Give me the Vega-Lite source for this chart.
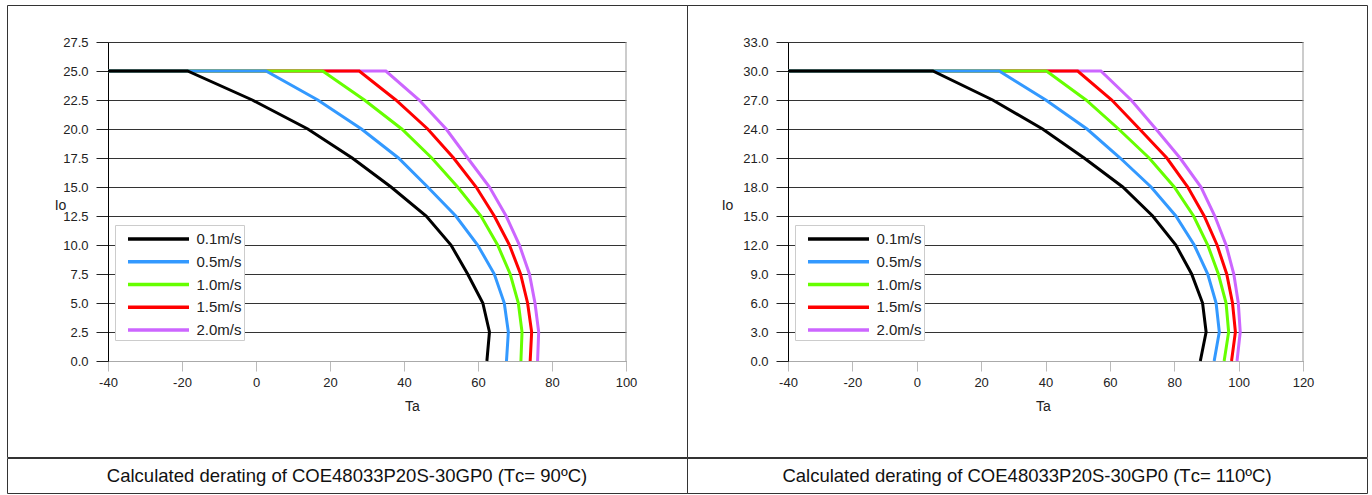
{
  "$schema": "https://vega.github.io/schema/vega-lite/v6.json",
  "padding": {"left": 6, "top": 4, "right": 6, "bottom": 1},
  "spacing": -3,
  "config": {"font": "Liberation Sans", "view": {"stroke": "#333", "strokeWidth": 1}},
  "datasets": {
    "left": [
      {"s": "2.0m/s", "Ta": -40, "Io": 25}, {"s": "2.0m/s", "Ta": 35.1, "Io": 25}, {"s": "2.0m/s", "Ta": 44.1, "Io": 22.5}, {"s": "2.0m/s", "Ta": 51.4, "Io": 20}, {"s": "2.0m/s", "Ta": 57.2, "Io": 17.5}, {"s": "2.0m/s", "Ta": 63.1, "Io": 15}, {"s": "2.0m/s", "Ta": 67.6, "Io": 12.5}, {"s": "2.0m/s", "Ta": 71.2, "Io": 10}, {"s": "2.0m/s", "Ta": 73.9, "Io": 7.5}, {"s": "2.0m/s", "Ta": 75.4, "Io": 5}, {"s": "2.0m/s", "Ta": 76.4, "Io": 2.5}, {"s": "2.0m/s", "Ta": 76.1, "Io": 0},
      {"s": "1.5m/s", "Ta": -40, "Io": 25}, {"s": "1.5m/s", "Ta": 27.9, "Io": 25}, {"s": "1.5m/s", "Ta": 37.8, "Io": 22.5}, {"s": "1.5m/s", "Ta": 46.4, "Io": 20}, {"s": "1.5m/s", "Ta": 53.4, "Io": 17.5}, {"s": "1.5m/s", "Ta": 59.5, "Io": 15}, {"s": "1.5m/s", "Ta": 64.4, "Io": 12.5}, {"s": "1.5m/s", "Ta": 68.5, "Io": 10}, {"s": "1.5m/s", "Ta": 71.5, "Io": 7.5}, {"s": "1.5m/s", "Ta": 73.4, "Io": 5}, {"s": "1.5m/s", "Ta": 74.5, "Io": 2.5}, {"s": "1.5m/s", "Ta": 74.1, "Io": 0},
      {"s": "1.0m/s", "Ta": -40, "Io": 25}, {"s": "1.0m/s", "Ta": 18, "Io": 25}, {"s": "1.0m/s", "Ta": 29.3, "Io": 22.5}, {"s": "1.0m/s", "Ta": 39.4, "Io": 20}, {"s": "1.0m/s", "Ta": 47.5, "Io": 17.5}, {"s": "1.0m/s", "Ta": 54.5, "Io": 15}, {"s": "1.0m/s", "Ta": 60.8, "Io": 12.5}, {"s": "1.0m/s", "Ta": 65.3, "Io": 10}, {"s": "1.0m/s", "Ta": 68.7, "Io": 7.5}, {"s": "1.0m/s", "Ta": 70.9, "Io": 5}, {"s": "1.0m/s", "Ta": 71.9, "Io": 2.5}, {"s": "1.0m/s", "Ta": 71.6, "Io": 0},
      {"s": "0.5m/s", "Ta": -40, "Io": 25}, {"s": "0.5m/s", "Ta": 2.7, "Io": 25}, {"s": "0.5m/s", "Ta": 16.7, "Io": 22.5}, {"s": "0.5m/s", "Ta": 28.5, "Io": 20}, {"s": "0.5m/s", "Ta": 38.5, "Io": 17.5}, {"s": "0.5m/s", "Ta": 46.4, "Io": 15}, {"s": "0.5m/s", "Ta": 54, "Io": 12.5}, {"s": "0.5m/s", "Ta": 59.9, "Io": 10}, {"s": "0.5m/s", "Ta": 64.4, "Io": 7.5}, {"s": "0.5m/s", "Ta": 67.1, "Io": 5}, {"s": "0.5m/s", "Ta": 68.2, "Io": 2.5}, {"s": "0.5m/s", "Ta": 67.7, "Io": 0},
      {"s": "0.1m/s", "Ta": -40, "Io": 25}, {"s": "0.1m/s", "Ta": -18.5, "Io": 25}, {"s": "0.1m/s", "Ta": -1, "Io": 22.5}, {"s": "0.1m/s", "Ta": 14, "Io": 20}, {"s": "0.1m/s", "Ta": 26, "Io": 17.5}, {"s": "0.1m/s", "Ta": 36.5, "Io": 15}, {"s": "0.1m/s", "Ta": 46, "Io": 12.5}, {"s": "0.1m/s", "Ta": 52.7, "Io": 10}, {"s": "0.1m/s", "Ta": 57.2, "Io": 7.5}, {"s": "0.1m/s", "Ta": 61.3, "Io": 5}, {"s": "0.1m/s", "Ta": 63.1, "Io": 2.5}, {"s": "0.1m/s", "Ta": 62.4, "Io": 0}
    ],
    "right": [
      {"s": "2.0m/s", "Ta": -40, "Io": 30}, {"s": "2.0m/s", "Ta": 57.2, "Io": 30}, {"s": "2.0m/s", "Ta": 66.6, "Io": 27}, {"s": "2.0m/s", "Ta": 74.3, "Io": 24}, {"s": "2.0m/s", "Ta": 81.8, "Io": 21}, {"s": "2.0m/s", "Ta": 88.3, "Io": 18}, {"s": "2.0m/s", "Ta": 92.6, "Io": 15}, {"s": "2.0m/s", "Ta": 96.1, "Io": 12}, {"s": "2.0m/s", "Ta": 98.5, "Io": 9}, {"s": "2.0m/s", "Ta": 99.9, "Io": 6}, {"s": "2.0m/s", "Ta": 100.5, "Io": 3}, {"s": "2.0m/s", "Ta": 99.5, "Io": 0},
      {"s": "1.5m/s", "Ta": -40, "Io": 30}, {"s": "1.5m/s", "Ta": 50, "Io": 30}, {"s": "1.5m/s", "Ta": 60.6, "Io": 27}, {"s": "1.5m/s", "Ta": 69.2, "Io": 24}, {"s": "1.5m/s", "Ta": 77.7, "Io": 21}, {"s": "1.5m/s", "Ta": 84.2, "Io": 18}, {"s": "1.5m/s", "Ta": 89.3, "Io": 15}, {"s": "1.5m/s", "Ta": 93.3, "Io": 12}, {"s": "1.5m/s", "Ta": 96.3, "Io": 9}, {"s": "1.5m/s", "Ta": 98.1, "Io": 6}, {"s": "1.5m/s", "Ta": 99, "Io": 3}, {"s": "1.5m/s", "Ta": 97.8, "Io": 0},
      {"s": "1.0m/s", "Ta": -40, "Io": 30}, {"s": "1.0m/s", "Ta": 40.3, "Io": 30}, {"s": "1.0m/s", "Ta": 52.6, "Io": 27}, {"s": "1.0m/s", "Ta": 62.7, "Io": 24}, {"s": "1.0m/s", "Ta": 72.2, "Io": 21}, {"s": "1.0m/s", "Ta": 80, "Io": 18}, {"s": "1.0m/s", "Ta": 86, "Io": 15}, {"s": "1.0m/s", "Ta": 90.4, "Io": 12}, {"s": "1.0m/s", "Ta": 93.7, "Io": 9}, {"s": "1.0m/s", "Ta": 96.1, "Io": 6}, {"s": "1.0m/s", "Ta": 96.9, "Io": 3}, {"s": "1.0m/s", "Ta": 95.5, "Io": 0},
      {"s": "0.5m/s", "Ta": -40, "Io": 30}, {"s": "0.5m/s", "Ta": 25.6, "Io": 30}, {"s": "0.5m/s", "Ta": 40.1, "Io": 27}, {"s": "0.5m/s", "Ta": 52.9, "Io": 24}, {"s": "0.5m/s", "Ta": 63.2, "Io": 21}, {"s": "0.5m/s", "Ta": 72.8, "Io": 18}, {"s": "0.5m/s", "Ta": 80.5, "Io": 15}, {"s": "0.5m/s", "Ta": 86.2, "Io": 12}, {"s": "0.5m/s", "Ta": 90.4, "Io": 9}, {"s": "0.5m/s", "Ta": 93, "Io": 6}, {"s": "0.5m/s", "Ta": 94, "Io": 3}, {"s": "0.5m/s", "Ta": 92.4, "Io": 0},
      {"s": "0.1m/s", "Ta": -40, "Io": 30}, {"s": "0.1m/s", "Ta": 5, "Io": 30}, {"s": "0.1m/s", "Ta": 23.6, "Io": 27}, {"s": "0.1m/s", "Ta": 39.1, "Io": 24}, {"s": "0.1m/s", "Ta": 52, "Io": 21}, {"s": "0.1m/s", "Ta": 64, "Io": 18}, {"s": "0.1m/s", "Ta": 73.3, "Io": 15}, {"s": "0.1m/s", "Ta": 80.5, "Io": 12}, {"s": "0.1m/s", "Ta": 85.4, "Io": 9}, {"s": "0.1m/s", "Ta": 88.8, "Io": 6}, {"s": "0.1m/s", "Ta": 89.9, "Io": 3}, {"s": "0.1m/s", "Ta": 88.1, "Io": 0}
    ],
    "capL": [{"caption": "Calculated derating of COE48033P20S-30GP0 (Tᴄ= 90ºC)"}],
    "capR": [{"caption": "Calculated derating of COE48033P20S-30GP0 (Tᴄ= 110ºC)"}]
  },
  "vconcat": [
    {
      "hconcat": [
        {
          "width": 680, "height": 452,
          "layer": [
            {
              "data": {"name": "left"},
              "mark": {"type": "line", "strokeWidth": 3, "clip": false},
              "encoding": {
                "x": {"field": "Ta", "type": "quantitative",
                  "scale": {"domain": [-40, 100], "range": [101, 619], "nice": false, "zero": false},
                  "axis": {"orient": "bottom", "offset": -96, "values": [-40, -20, 0, 20, 40, 60, 80, 100], "grid": false, "labelFlush": false, "labelExpr": "toString(datum.value)",
                    "domainColor": "#aaa", "tickColor": "#bbb", "tickSize": 10, "labelPadding": 5, "labelFontSize": 13, "labelColor": "#222",
                    "title": "Ta", "titleX": 405, "titleY": 45, "titleAlign": "center", "titleBaseline": "middle", "titleFontSize": 14, "titleFontWeight": "normal", "titleColor": "#222"}},
                "y": {"field": "Io", "type": "quantitative",
                  "scale": {"domain": [0, 27.5], "range": [356, 37], "nice": false, "zero": false},
                  "axis": {"orient": "left", "offset": -101, "values": [0, 2.5, 5, 7.5, 10, 12.5, 15, 17.5, 20, 22.5, 25, 27.5], "format": ".1f", "labelFlush": false,
                    "grid": true, "gridColor": "#333", "gridWidth": 1, "domainColor": "#000", "tickColor": "#222", "tickSize": 12, "labelPadding": 8, "labelFontSize": 13, "labelColor": "#222",
                    "title": "Io", "titleAngle": 0, "titleX": -48, "titleY": 200, "titleAlign": "center", "titleBaseline": "middle", "titleFontSize": 14, "titleFontWeight": "normal", "titleColor": "#222"}},
                "color": {"field": "s", "type": "nominal",
                  "scale": {"domain": ["0.1m/s", "0.5m/s", "1.0m/s", "1.5m/s", "2.0m/s"], "range": ["#000000", "#3399ff", "#66ff00", "#ff0000", "#cc66ff"]},
                  "legend": {"orient": "none", "legendX": 108, "legendY": 220, "title": null, "symbolType": "M-3.05,0H3.05", "symbolSize": 400, "symbolStrokeWidth": 3.5,
                    "symbolOffset": 29.5, "labelOffset": 26, "labelFontSize": 15, "labelColor": "#222", "padding": 2, "rowPadding": 2.75,
                    "strokeColor": "#ccc", "fillColor": "#fff", "cornerRadius": 0}},
                "order": {"value": null}
              }
            },
            {
              "data": {"values": [{}]},
              "mark": {"type": "rule", "color": "#999", "strokeWidth": 1},
              "encoding": {"x": {"datum": 100, "type": "quantitative"}, "y": {"datum": 0, "type": "quantitative"}, "y2": {"datum": 27.5}}
            }
          ]
        },
        {
          "width": 680, "height": 452,
          "layer": [
            {
              "data": {"name": "right"},
              "mark": {"type": "line", "strokeWidth": 3, "clip": false},
              "encoding": {
                "x": {"field": "Ta", "type": "quantitative",
                  "scale": {"domain": [-40, 120], "range": [101, 616], "nice": false, "zero": false},
                  "axis": {"orient": "bottom", "offset": -96, "values": [-40, -20, 0, 20, 40, 60, 80, 100, 120], "grid": false, "labelFlush": false, "labelExpr": "toString(datum.value)",
                    "domainColor": "#aaa", "tickColor": "#bbb", "tickSize": 10, "labelPadding": 5, "labelFontSize": 13, "labelColor": "#222",
                    "title": "Ta", "titleX": 356, "titleY": 45, "titleAlign": "center", "titleBaseline": "middle", "titleFontSize": 14, "titleFontWeight": "normal", "titleColor": "#222"}},
                "y": {"field": "Io", "type": "quantitative",
                  "scale": {"domain": [0, 33], "range": [356, 37], "nice": false, "zero": false},
                  "axis": {"orient": "left", "offset": -101, "values": [0, 3, 6, 9, 12, 15, 18, 21, 24, 27, 30, 33], "format": ".1f", "labelFlush": false,
                    "grid": true, "gridColor": "#333", "gridWidth": 1, "domainColor": "#000", "tickColor": "#222", "tickSize": 12, "labelPadding": 8, "labelFontSize": 13, "labelColor": "#222",
                    "title": "Io", "titleAngle": 0, "titleX": -61, "titleY": 200, "titleAlign": "center", "titleBaseline": "middle", "titleFontSize": 14, "titleFontWeight": "normal", "titleColor": "#222"}},
                "color": {"field": "s", "type": "nominal",
                  "scale": {"domain": ["0.1m/s", "0.5m/s", "1.0m/s", "1.5m/s", "2.0m/s"], "range": ["#000000", "#3399ff", "#66ff00", "#ff0000", "#cc66ff"]},
                  "legend": {"orient": "none", "legendX": 108, "legendY": 220, "title": null, "symbolType": "M-3.05,0H3.05", "symbolSize": 400, "symbolStrokeWidth": 3.5,
                    "symbolOffset": 29.5, "labelOffset": 26, "labelFontSize": 15, "labelColor": "#222", "padding": 2, "rowPadding": 2.75,
                    "strokeColor": "#ccc", "fillColor": "#fff", "cornerRadius": 0}},
                "order": {"value": null}
              }
            },
            {
              "data": {"values": [{}]},
              "mark": {"type": "rule", "color": "#999", "strokeWidth": 1},
              "encoding": {"x": {"datum": 120, "type": "quantitative"}, "y": {"datum": 0, "type": "quantitative"}, "y2": {"datum": 33}}
            }
          ]
        }
      ],
      "spacing": 0,
      "bounds": "flush",
      "resolve": {"scale": {"color": "independent", "x": "independent", "y": "independent"}, "legend": {"color": "independent"}}
    },
    {
      "hconcat": [
        {"width": 680, "height": 35, "data": {"name": "capL"}, "view": {"stroke": "#333", "strokeWidth": 1},
         "mark": {"type": "text", "fontSize": 18.5, "color": "#111"},
         "encoding": {"text": {"field": "caption"},
           "x": {"datum": 0.5, "type": "quantitative", "scale": {"domain": [0, 1]}, "axis": null},
           "y": {"datum": 0.5, "type": "quantitative", "scale": {"domain": [0, 1]}, "axis": null}}},
        {"width": 680, "height": 35, "data": {"name": "capR"}, "view": {"stroke": "#333", "strokeWidth": 1},
         "mark": {"type": "text", "fontSize": 18.5, "color": "#111"},
         "encoding": {"text": {"field": "caption"},
           "x": {"datum": 0.5, "type": "quantitative", "scale": {"domain": [0, 1]}, "axis": null},
           "y": {"datum": 0.5, "type": "quantitative", "scale": {"domain": [0, 1]}, "axis": null}}}
      ],
      "spacing": 0,
      "bounds": "flush"
    }
  ]
}
